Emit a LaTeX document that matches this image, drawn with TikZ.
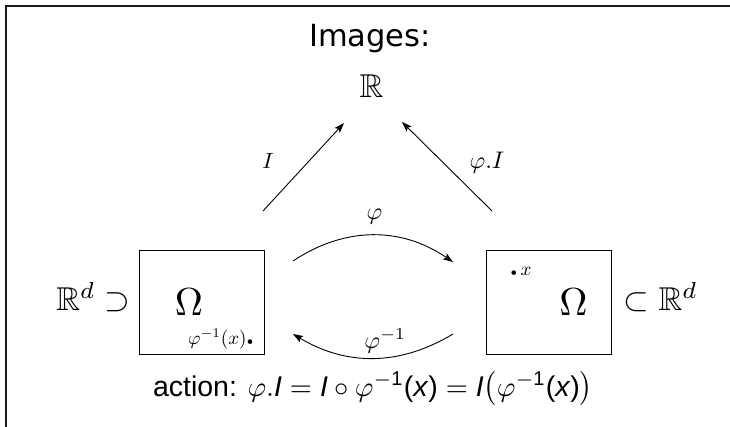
\documentclass[tikz,border=0pt]{standalone}
\usepackage{amssymb}
\usepackage{fontspec}
\newfontfamily\dvs{DejaVu Sans}
\newfontfamily\lib{Liberation Sans}
\usetikzlibrary{arrows.meta}
\begin{document}
\begin{tikzpicture}[x=1pt,y=-1pt,
  box/.style={draw, line width=1pt, minimum width=125pt, minimum height=103pt, inner sep=0},
  arr/.style={line width=0.9pt, -{Stealth[length=10pt,width=7pt,inset=2pt]}},
  lbl/.style={inner sep=0, anchor=base, scale=2.4},
  txt/.style={inner sep=0},
  frame/.style={line width=2pt, draw=black!90}]
\useasboundingbox (0,0) rectangle (730,427);
% frame
\coordinate (fbl) at (5.5,427);
\coordinate (ftl) at (5.5,6.5);
\coordinate (ftr) at (730,6.5);
\draw[frame] (fbl) -- (ftl) -- (ftr);
% title and R
\node[txt, anchor=base, font=\dvs\fontsize{30.5}{36}\selectfont] (title) at (370,47) {Images:};
\node[txt, anchor=base, scale=3.3] (R) at (371.5,98) {$\mathbb{R}$};
% boxes
\node[box] (lbox) at (201.5,302.5) {};
\node[box] (rbox) at (549,302.5) {};
\node[txt, anchor=base, scale=3.9] (lom) at (189,315) {$\Omega$};
\node[txt, anchor=base, scale=3.9] (rom) at (573.5,315) {$\Omega$};
\node[txt, anchor=base east, scale=3.3] (lRd) at (131,310) {$\mathbb{R}^d \supset$};
\node[txt, anchor=base west, scale=3.3] (rRd) at (623,310) {$\subset \mathbb{R}^d$};
\node[txt, anchor=base east, scale=1.9] (phix) at (254,344) {$\varphi^{-1}(x){\scriptscriptstyle\bullet}$};
\node[txt, anchor=base west, scale=1.9] (xpt) at (510,276) {${\scriptscriptstyle\bullet}\,x$};
% labels
\node[txt, anchor=base, scale=2.2] (Il) at (268,169) {$I$};
\node[lbl] (pIl) at (487,169) {$\varphi.I$};
\node[lbl] (phil) at (374.5,220) {$\varphi$};
\node[lbl, anchor=base west] (phiinv) at (364,348) {$\varphi^{-1}$};
% arrows
\coordinate (ia) at (263,211);
\coordinate (ib) at (344,123);
\coordinate (ja) at (492,211);
\coordinate (jb) at (402,122);
\draw[arr] (ia) -- (ib);
\draw[arr] (ja) -- (jb);
\coordinate (ta) at (293,261);
\coordinate (tb) at (453,262);
\draw[arr] (ta) to[bend left=34] (tb);
\coordinate (ba) at (453,334);
\coordinate (bb) at (293,334);
\draw[arr] (ba) to[bend left=31] (bb);
% bottom text
\node[txt, anchor=base, scale=2.85] (action) at (373,396) {\lib action: $\varphi.\mbox{\lib\itshape I} = \mbox{\lib\itshape I}\circ\varphi^{-\mbox{\lib\scriptsize 1}}\mbox{\lib(\itshape x\/\upshape)} = \mbox{\lib\itshape I}\big(\varphi^{-\mbox{\lib\scriptsize 1}}\mbox{\lib(\itshape x\/\upshape)}\big)$};
\end{tikzpicture}
\end{document}
